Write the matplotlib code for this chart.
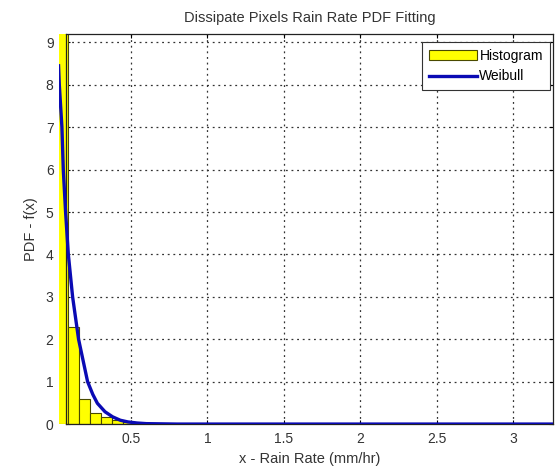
import matplotlib
matplotlib.use("Agg")
import matplotlib.pyplot as plt
import numpy as np
from matplotlib.transforms import Bbox, TransformedBbox

plt.rcParams['font.family'] = ['Liberation Sans', 'DejaVu Sans']

# histogram bins (edges) and bar heights
bin_edges = [0.012, 0.085, 0.16, 0.235, 0.305, 0.378, 0.45, 0.525, 0.6]
bin_heights = [12.0, 2.3, 0.6, 0.25, 0.16, 0.1, 0.06, 0.03]

# fitted weibull curve
wb_x = [0.026, 0.031, 0.048, 0.057, 0.072, 0.09, 0.118, 0.157, 0.216,
        0.25, 0.28, 0.33, 0.38, 0.43, 0.48, 0.54, 0.6, 0.8, 3.3]
wb_y = [8.45, 8.0, 7.0, 6.0, 5.0, 4.0, 3.0, 2.0, 1.0,
        0.7, 0.49, 0.29, 0.17, 0.09, 0.05, 0.025, 0.01, 0.0, 0.0]

txt = '#333333'

fig = plt.figure(figsize=(5.55, 4.66), dpi=100)
ax = fig.add_axes([0.119, 0.09, 0.877, 0.837])

widths = np.diff(bin_edges)
bars = ax.bar(bin_edges[:-1], bin_heights, width=widths, align='edge',
              color='#ffff00', edgecolor='#4a4a00', linewidth=0.8,
              label='Histogram', zorder=2)
line, = ax.plot(wb_x, wb_y, color='#0a0ab4', lw=2.4, label='Weibull', zorder=3)

# matlab lets the first bar / curve spill left of the axes
clip = TransformedBbox(Bbox.from_extents(-0.014, 0, 1, 1), ax.transAxes)
for p in bars.patches:
    p.set_clip_box(clip)
line.set_clip_box(clip)

ax.set_xlim(0.075, 3.26)
ax.set_ylim(0, 9.2)
ax.set_xticks([0.5, 1, 1.5, 2, 2.5, 3])
ax.set_xticklabels(['0.5', '1', '1.5', '2', '2.5', '3'])
ax.set_yticks(range(10))
ax.grid(True, color=txt, linestyle=(0, (1.5, 3)), linewidth=0.9)
ax.set_axisbelow(True)
ax.tick_params(direction='in', length=3, top=True, right=True,
               labelsize=10, labelcolor=txt)
ax.tick_params(axis='x', pad=6)
ax.tick_params(axis='y', pad=9)
for s in ax.spines.values():
    s.set_color('#222222')
    s.set_linewidth(0.9)

ax.set_title('Dissipate Pixels Rain Rate PDF Fitting', fontsize=10.5,
             color=txt, pad=9)
ax.set_xlabel('x - Rain Rate (mm/hr)', fontsize=10.5, color=txt, labelpad=4)
ax.set_ylabel('PDF - f(x)', fontsize=10.5, color=txt)
ax.yaxis.set_label_coords(-0.058, 0.5)

leg = ax.legend([bars, line], ['Histogram', 'Weibull'],
                loc='upper right', bbox_to_anchor=(0.994, 0.979),
                fancybox=False, framealpha=1, edgecolor=txt,
                fontsize=10, handlelength=3.5, borderpad=0.5,
                labelspacing=0.45, handletextpad=0.15, borderaxespad=0)
leg.get_frame().set_linewidth(0.8)

fig.savefig('out.png', dpi=100)
